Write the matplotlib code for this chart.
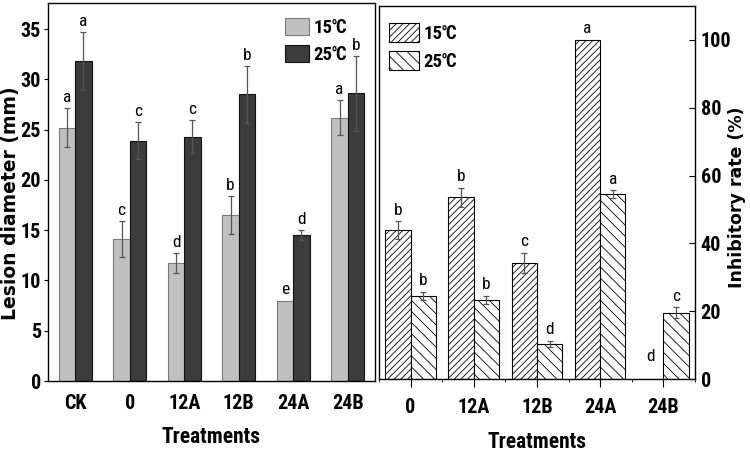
import numpy as np
import matplotlib
matplotlib.use("Agg")
import matplotlib.pyplot as plt
from matplotlib import font_manager as fm

# ---------------- data ----------------
cats_left = ["CK", "0", "12A", "12B", "24A", "24B"]
lesion_15 = [25.2, 14.1, 11.7, 16.5, 8.0, 26.2]
lesion_15_err = [1.9, 1.8, 1.0, 1.9, 0.0, 1.7]
lesion_25 = [31.8, 23.9, 24.3, 28.5, 14.5, 28.6]
lesion_25_err = [2.9, 1.85, 1.65, 2.8, 0.5, 3.7]
lesion_15_letters = ["a", "c", "d", "b", "e", "a"]
lesion_25_letters = ["a", "c", "c", "b", "d", "b"]

cats_right = ["0", "12A", "12B", "24A", "24B"]
inhib_15 = [43.9, 53.6, 34.2, 100.0, 0.0]
inhib_15_err = [2.6, 2.8, 3.0, 0.0, 0.0]
inhib_25 = [24.6, 23.4, 10.3, 54.5, 19.6]
inhib_25_err = [1.2, 1.2, 1.0, 1.2, 1.5]
inhib_15_letters = ["b", "b", "c", "a", "d"]
inhib_25_letters = ["b", "b", "d", "a", "c"]

series_labels = ["15\u2103", "25\u2103"]

# ---------------- fonts ----------------
entries = fm.fontManager.ttflist
names = {f.name for f in entries}
narrow_family, narrow_stretch = None, "normal"
for cand in ["Liberation Sans Narrow", "Arial Narrow", "Roboto Condensed",
             "Noto Sans Condensed", "Open Sans Condensed", "DejaVu Sans Condensed",
             "Noto Sans SemiCondensed", "Open Sans SemiCondensed"]:
    if cand in names:
        narrow_family = cand
        break
if narrow_family is None:
    for f in entries:
        if ("Narrow" in f.name or "Condensed" in f.name) and "Mono" not in f.name \
                and "Serif" not in f.name:
            narrow_family = f.name
            break
if narrow_family is None:
    for pref in ["Liberation Sans", "Roboto", "Noto Sans", "Open Sans", "DejaVu Sans"]:
        hit = [f for f in entries if f.name == pref and str(f.stretch) in
               ("condensed", "semi-condensed", "extra-condensed", "75", "87.5")]
        if hit:
            narrow_family, narrow_stretch = pref, "condensed"
            break
if narrow_family is None:
    narrow_family = "Liberation Sans"

NARROW = [narrow_family, "DejaVu Sans"]
WIDE = ["DejaVu Sans"]
NKW = dict(fontfamily=NARROW, fontstretch=narrow_stretch)
plt.rcParams["hatch.linewidth"] = 0.6

fig = plt.figure(figsize=(7.5, 4.55), dpi=100)
axL = fig.add_axes([0.064, 0.1626, 0.436, 0.831])
axR = fig.add_axes([0.5053, 0.167, 0.4213, 0.8198])

ERRKW = dict(ecolor="#555555", elinewidth=0.9, capsize=2.5, capthick=0.9)

def put_letters(ax, xs, vals, errs, letters, minval=0.0):
    for x, v, e, t in zip(xs, vals, errs, letters):
        y = max(v + e, minval)
        ax.annotate(t, (x, y), xytext=(0, 2.5), textcoords="offset points",
                    ha="center", va="bottom", fontsize=12.5, color="black", **NKW)

def style_ticklabels(ax, size):
    for lab in ax.get_xticklabels() + ax.get_yticklabels():
        lab.set_fontfamily(NARROW)
        lab.set_fontstretch(narrow_stretch)
        lab.set_fontweight("bold")
        lab.set_fontsize(size)

legprop = fm.FontProperties(family=NARROW, weight="bold", size=13.5,
                            stretch=narrow_stretch)

# ---------------- left panel ----------------
x = np.arange(len(cats_left))
w = 0.30
axL.bar(x - w / 2, lesion_15, w, color="#c0c0c0", edgecolor="#7a7a7a",
        linewidth=0.8, label=series_labels[0])
axL.bar(x + w / 2, lesion_25, w, color="#3c3c3c", edgecolor="#111111",
        linewidth=0.8, label=series_labels[1])
e15 = [e if e > 0 else np.nan for e in lesion_15_err]
axL.errorbar(x - w / 2, lesion_15, yerr=e15, fmt="none", **ERRKW)
axL.errorbar(x + w / 2, lesion_25, yerr=lesion_25_err, fmt="none", **ERRKW)
put_letters(axL, x - w / 2, lesion_15, lesion_15_err, lesion_15_letters)
put_letters(axL, x + w / 2, lesion_25, lesion_25_err, lesion_25_letters)

axL.set_xlim(-0.5, len(cats_left) - 0.5)
axL.set_ylim(0, 37.6)
axL.set_yticks(np.arange(0, 36, 5))
axL.set_xticks(x)
axL.set_xticklabels(cats_left)
axL.tick_params(axis="x", length=0, pad=9)
axL.tick_params(axis="y", direction="out", length=3, width=0.8, pad=2)
style_ticklabels(axL, 14.5)
axL.set_xlabel("Treatments", fontweight="bold", fontsize=15.5, labelpad=10, **NKW)
axL.set_ylabel("Lesion diameter (mm)", fontfamily=WIDE, fontweight="bold",
               fontsize=13.5, va="center", ha="center")
axL.yaxis.set_label_coords(-0.114, 0.471)
for s in axL.spines.values():
    s.set_linewidth(1.0)
axL.legend(loc="upper left", bbox_to_anchor=(0.685, 0.995), frameon=False,
           handlelength=1.25, handleheight=1.0, handletextpad=0.25,
           labelspacing=0.45, borderpad=0.2, prop=legprop)

# ---------------- right panel ----------------
xr = np.arange(len(cats_right))
wr = 0.40
axR.bar(xr - wr / 2, inhib_15, wr, color="white", edgecolor="black",
        linewidth=0.8, hatch="/////", label=series_labels[0])
axR.bar(xr + wr / 2, inhib_25, wr, color="white", edgecolor="black",
        linewidth=0.8, hatch="\\\\\\", label=series_labels[1])
r15 = [e if e > 0 else np.nan for e in inhib_15_err]
axR.errorbar(xr - wr / 2, inhib_15, yerr=r15, fmt="none", **ERRKW)
axR.errorbar(xr + wr / 2, inhib_25, yerr=inhib_25_err, fmt="none", **ERRKW)
put_letters(axR, xr - wr / 2, inhib_15, inhib_15_err, inhib_15_letters, minval=3.5)
put_letters(axR, xr + wr / 2, inhib_25, inhib_25_err, inhib_25_letters)

axR.set_xlim(-0.5, len(cats_right) - 0.5)
axR.set_ylim(0, 110)
axR.set_yticks(np.arange(0, 101, 20))
axR.set_xticks(xr)
axR.set_xticks(np.arange(-0.5, len(cats_right), 1.0), minor=True)
axR.set_xticklabels(cats_right)
axR.yaxis.tick_right()
axR.yaxis.set_label_position("right")
axR.tick_params(axis="y", direction="in", length=4, width=0.8, pad=4)
axR.tick_params(axis="x", which="major", direction="out", length=6, width=0.8, pad=8)
axR.tick_params(axis="x", which="minor", direction="out", length=2.5, width=0.6)
style_ticklabels(axR, 14.5)
axR.set_xlabel("Treatments", fontweight="bold", fontsize=15.5, labelpad=10, **NKW)
axR.set_ylabel("Inhibitory rate (%)", fontfamily=WIDE, fontweight="bold",
               fontsize=12.5, rotation=90, va="center", ha="center")
axR.yaxis.set_label_coords(1.133, 0.488)
for s in axR.spines.values():
    s.set_linewidth(1.0)
axR.legend(loc="upper left", bbox_to_anchor=(-0.01, 0.99), frameon=False,
           handlelength=1.6, handleheight=1.2, handletextpad=0.25,
           labelspacing=0.45, borderpad=0.2, prop=legprop)

fig.savefig("out.png", dpi=100)
